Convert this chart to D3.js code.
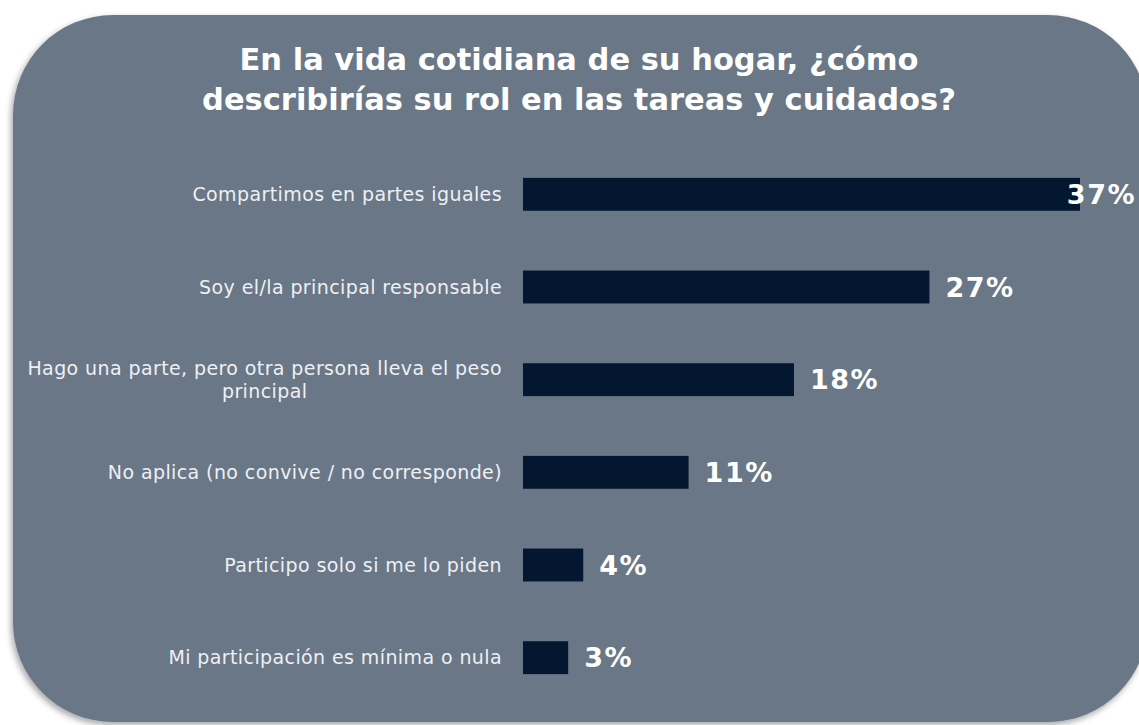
<!DOCTYPE html>
<html>
<head>
<meta charset="utf-8">
<script src="https://cdn.jsdelivr.net/npm/d3@7"></script>
<style>
  html, body { margin: 0; padding: 0; background: #ffffff; }
  svg { display: block; }
</style>
</head>
<body>
<svg id="chart" width="1139" height="725"></svg>
<script>
const titleLines = ["En la vida cotidiana de su hogar, ¿cómo", "describirías su rol en las tareas y cuidados?"];
const categories = [
  ["Compartimos en partes iguales"],
  ["Soy el/la principal responsable"],
  ["Hago una parte, pero otra persona lleva el peso", "principal"],
  ["No aplica (no convive / no corresponde)"],
  ["Participo solo si me lo piden"],
  ["Mi participación es mínima o nula"]
];
const values = [37, 27, 18, 11, 4, 3];
const valueLabels = ["37%", "27%", "18%", "11%", "4%", "3%"];

const W = 1139, H = 725;
const svg = d3.select("#chart");

const defs = svg.append("defs");
const f = defs.append("filter").attr("id", "shadow").attr("x", "-5%").attr("y", "-5%").attr("width", "110%").attr("height", "110%");
f.append("feDropShadow").attr("dx", -2).attr("dy", 3).attr("stdDeviation", 3).attr("flood-color", "#000").attr("flood-opacity", 0.35);

// panel
svg.append("rect")
  .attr("x", 13).attr("y", 15).attr("width", 1135).attr("height", 707)
  .attr("rx", 100).attr("ry", 100)
  .attr("fill", "#6b7787")
  .attr("filter", "url(#shadow)");

// title
const title = svg.append("text")
  .attr("text-anchor", "middle")
  .attr("fill", "#ffffff")
  .attr("font-family", "'DejaVu Sans', Verdana, sans-serif")
  .attr("font-weight", "bold")
  .attr("font-size", 30.5);
titleLines.forEach((t, i) => {
  title.append("tspan").attr("x", 579).attr("y", 70 + i * 40).text(t);
});

const idx = d3.range(values.length);
const x = d3.scaleLinear().domain([0, 37]).range([523, 1080]);
const y = d3.scaleBand().domain(idx).range([148, 704]).paddingInner(0.645).paddingOuter(0.3225);

const g = svg.append("g");

g.selectAll("rect.bar").data(idx).join("rect")
  .attr("class", "bar")
  .attr("x", x(0))
  .attr("y", i => y(i))
  .attr("width", i => x(values[i]) - x(0))
  .attr("height", y.bandwidth())
  .attr("fill", "#031830");

// category labels
const labelFont = "'DejaVu Sans', Verdana, sans-serif";
g.selectAll("text.cat").data(idx).join("text")
  .attr("class", "cat")
  .attr("fill", "#eef0f3")
  .attr("font-family", labelFont)
  .attr("font-size", 19)
  .attr("letter-spacing", 0.4)
  .attr("text-anchor", "middle")
  .each(function(i) {
    const lines = categories[i];
    const cy = y(i) + y.bandwidth() / 2;
    const lh = 23;
    const el = d3.select(this);
    lines.forEach((ln, k) => {
      el.append("tspan")
        .attr("x", 0)
        .attr("y", cy + (k - (lines.length - 1) / 2) * lh)
        .attr("dy", "0.35em")
        .text(ln);
    });
  });
// right-align the (centered) label block to x=502
g.selectAll("text.cat").each(function() {
  const bb = this.getBBox();
  const shift = 502 - (bb.x + bb.width);
  d3.select(this).attr("transform", `translate(${shift},0)`);
});

// value labels
g.selectAll("text.val").data(idx).join("text")
  .attr("class", "val")
  .attr("fill", "#ffffff")
  .attr("font-family", "'DejaVu Sans', Verdana, sans-serif")
  .attr("font-weight", "bold")
  .attr("font-size", 27)
  .attr("letter-spacing", 1.5)
  .attr("y", i => y(i) + y.bandwidth() / 2)
  .attr("dy", "0.36em")
  .text(i => valueLabels[i])
  .attr("x", function(i) {
    const bb = this.getBBox();
    return Math.min(x(values[i]) + 16, W - bb.width - 3);
  });
</script>
</body>
</html>
